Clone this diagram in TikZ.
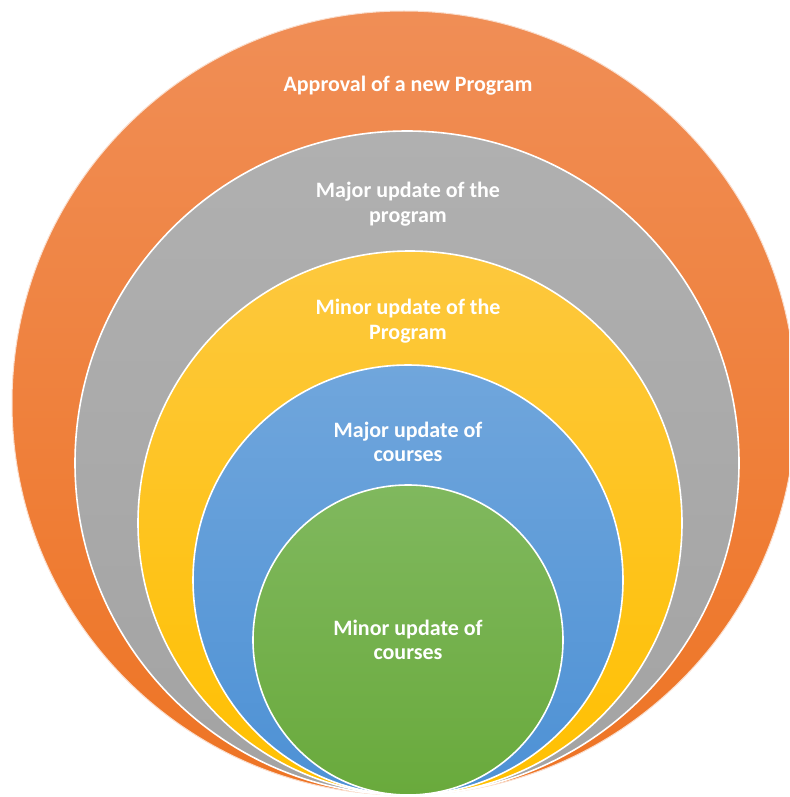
\documentclass[tikz,border=0pt]{standalone}
\usepackage{fontspec}
\setmainfont{Carlito}
\definecolor{orgTop}{HTML}{F08E56}
\definecolor{orgBot}{HTML}{EE7424}
\definecolor{gryTop}{HTML}{B0B0B0}
\definecolor{gryBot}{HTML}{A3A3A3}
\definecolor{ylwTop}{HTML}{FDC83E}
\definecolor{ylwBot}{HTML}{FFC000}
\definecolor{bluTop}{HTML}{70A6DC}
\definecolor{bluBot}{HTML}{4D91D5}
\definecolor{grnTop}{HTML}{80B85E}
\definecolor{grnBot}{HTML}{69AA3C}
\tikzset{
  ring/.style={draw=white, line width=1.6pt},
  ringlabel/.style={text=white, font=\bfseries\fontsize{22}{24.5}\selectfont, align=center}
}
\begin{document}
\begin{tikzpicture}[x=1pt, y=-1pt]
\useasboundingbox (0,0) rectangle (789,797);
\clip (0,0) rectangle (789,797);
% nested circles, all touching at the bottom point
\shade[top color=orgTop, bottom color=orgBot, draw=white!70!orgTop, line width=1pt] (404,403) circle[radius=392];
\shade[ring, top color=gryTop, bottom color=gryBot] (407,463) circle[radius=332];
\shade[ring, top color=ylwTop, bottom color=ylwBot] (410,523) circle[radius=272];
\shade[ring, top color=bluTop, bottom color=bluBot] (408,580) circle[radius=215];
\shade[ring, top color=grnTop, bottom color=grnBot] (408,640) circle[radius=155];
% labels
\node[ringlabel] (l1) at (408,86) {Approval of a new Program};
\node[ringlabel] (l2) at (408,204) {Major update of the\\program};
\node[ringlabel] (l3) at (408,321) {Minor update of the\\Program};
\node[ringlabel] (l4) at (408,442) {Major update of\\courses};
\node[ringlabel] (l5) at (408,640) {Minor update of\\courses};
\end{tikzpicture}
\end{document}
